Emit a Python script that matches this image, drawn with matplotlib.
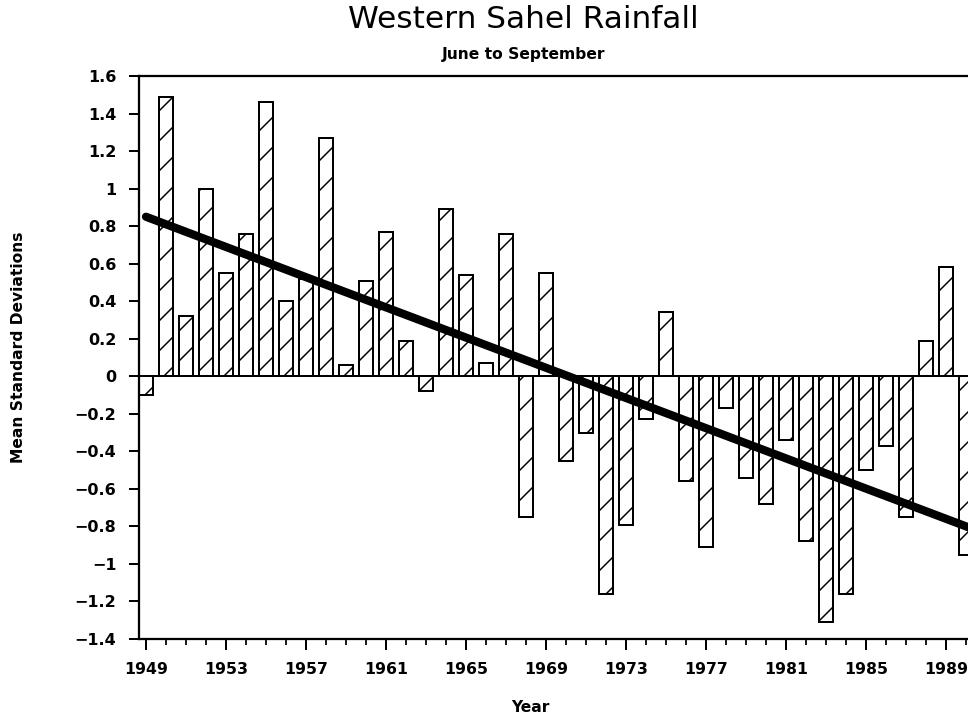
import numpy as np
from matplotlib import pyplot as plt
from matplotlib.ticker import MultipleLocator

# June-September rainfall anomaly, western Sahel
years = list(range(1949, 1991))
anomaly = [-0.10, 1.49, 0.32, 1.00, 0.55, 0.76, 1.46, 0.40, 0.52, 1.27,
           0.06, 0.51, 0.77, 0.19, -0.08, 0.89, 0.54, 0.07, 0.76, -0.75,
           0.55, -0.45, -0.30, -1.16, -0.79, -0.23, 0.34, -0.56, -0.91, -0.17,
           -0.54, -0.68, -0.34, -0.88, -1.31, -1.16, -0.50, -0.37, -0.75, 0.19,
           0.58, -0.95]

# linear trend, end points
trend_years = [1949, 1991]
trend_vals = [0.85, -0.84]

year_ticks = list(range(1949, 1990, 4))

DPI = 180
plt.rcParams['hatch.linewidth'] = 0.6
plt.rcParams['font.family'] = 'DejaVu Sans'

fig = plt.figure(figsize=(968 / DPI, 714 / DPI), dpi=DPI)
ax = fig.add_axes([139 / 968, 1 - 639 / 714, 1 - 139 / 968, (639 - 76) / 714])

ax.bar(years, anomaly, width=0.73, color='white', edgecolor='black',
       linewidth=0.8, hatch='//', zorder=2)
ax.axhline(0, color='black', lw=0.8, zorder=3)
ax.plot(trend_years, trend_vals, color='black', lw=3.3,
        solid_capstyle='round', zorder=4)

ax.set_xlim(1948.65, 1990.1)
ax.set_ylim(-1.4, 1.6)
ax.set_yticks(np.arange(-1.4, 1.61, 0.2))
ax.set_yticklabels(['\u22121.4', '\u22121.2', '\u22121', '\u22120.8', '\u22120.6', '\u22120.4',
                    '\u22120.2', '0', '0.2', '0.4', '0.6', '0.8', '1', '1.2', '1.4', '1.6'])
ax.set_xticks(year_ticks)
ax.set_xticklabels([str(y) for y in year_ticks])
ax.xaxis.set_minor_locator(MultipleLocator(1))

ax.tick_params(axis='y', direction='out', length=4, width=0.8, pad=5,
               labelsize=6.4)
ax.tick_params(axis='x', which='major', direction='out', length=4.4,
               width=0.8, pad=4.6, labelsize=6.3)
ax.tick_params(axis='x', which='minor', direction='out', length=2.4, width=0.7)
for lab in ax.get_xticklabels() + ax.get_yticklabels():
    lab.set_fontweight('bold')

for side in ['left', 'top', 'bottom']:
    ax.spines[side].set_linewidth(0.9)
ax.spines['right'].set_visible(False)

fig.text(523 / 968, 1 - 19 / 714, 'Western Sahel Rainfall', ha='center',
         va='center', fontsize=12.5)
fig.text(524 / 968, 1 - 55 / 714, 'June to September', ha='center',
         va='center', fontsize=6.2, fontweight='bold')
fig.text(19 / 968, 1 - 347 / 714, 'Mean Standard Deviations', rotation=90,
         ha='center', va='center', fontsize=6.2, fontweight='bold')
fig.text(530 / 968, 1 - 707 / 714, 'Year', ha='center', va='center',
         fontsize=6.2, fontweight='bold')

fig.savefig('out.png', dpi=DPI)
